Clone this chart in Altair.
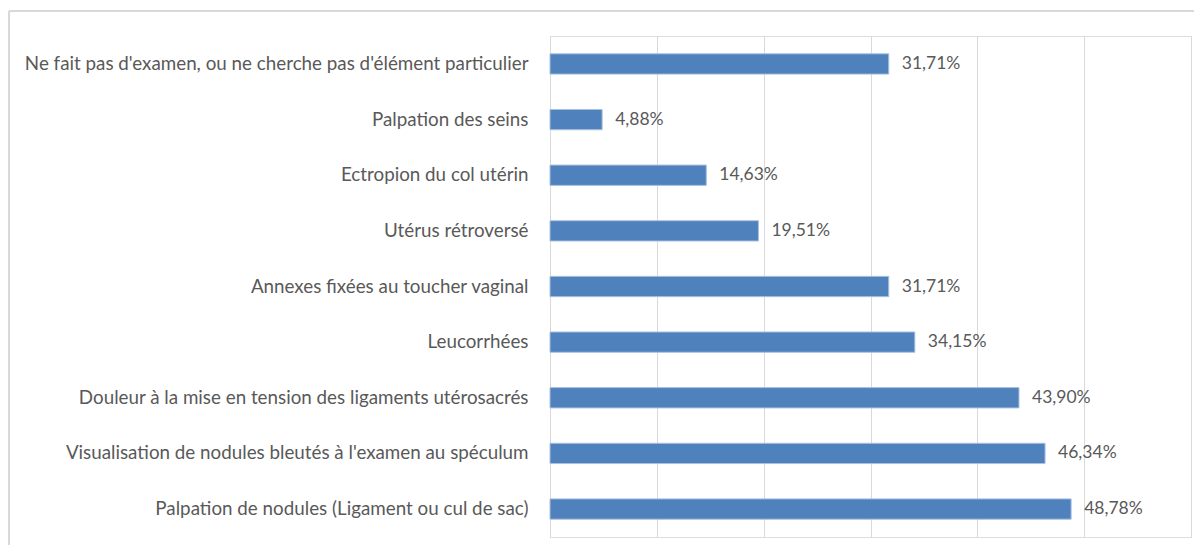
import altair as alt
import pandas as pd

categories = [
    "Ne fait pas d'examen, ou ne cherche pas d'élément particulier",
    "Palpation des seins",
    "Ectropion du col utérin",
    "Utérus rétroversé",
    "Annexes fixées au toucher vaginal",
    "Leucorrhées",
    "Douleur à la mise en tension des ligaments utérosacrés",
    "Visualisation de nodules bleutés à l'examen au spéculum",
    "Palpation de nodules (Ligament ou cul de sac)",
]
values = [31.71, 4.88, 14.63, 19.51, 31.71, 34.15, 43.90, 46.34, 48.78]

df = pd.DataFrame({"cat": categories, "val": values})

y_enc = alt.Y(
    "cat:N",
    sort=categories,
    scale=alt.Scale(paddingInner=0.635, paddingOuter=0.32),
    axis=alt.Axis(
        title=None, domain=False, ticks=False, labelPadding=22,
        labelFont="Lato", labelFontSize=18.8, labelColor="#595959",
        labelLimit=600,
    ),
)
x_enc = alt.X(
    "val:Q",
    scale=alt.Scale(domain=[0, 60], nice=False),
    axis=alt.Axis(
        title=None, domain=False, ticks=False, labels=False,
        values=[0, 10, 20, 30, 40, 50, 60],
        grid=True, gridColor="#d9d9d9", gridWidth=1,
    ),
)

bars = alt.Chart(df).mark_bar(
    color="#4f81bd", stroke="#a9c1e0", strokeWidth=1
).encode(y=y_enc, x=x_enc)

text = alt.Chart(df).transform_calculate(
    lbl="replace(format(datum.val, '.2f'), '.', ',') + '%'"
).mark_text(
    align="left", baseline="middle", dx=13,
    font="Lato", fontSize=17.5, color="#595959",
).encode(y=alt.Y("cat:N", sort=categories), x="val:Q", text="lbl:N")

frame_top = alt.Chart(df).mark_rule(color="#d9d9d9", strokeWidth=1.5).encode(
    x=alt.value(-541), x2=alt.value(700), y=alt.value(-25)
)
frame_left = alt.Chart(df).mark_rule(color="#d9d9d9", strokeWidth=1.5).encode(
    x=alt.value(-541), y=alt.value(-25), y2=alt.value(560)
)

chart = alt.layer(frame_top, frame_left, bars, text).properties(
    width=641, height=501,
    autosize=alt.AutoSizeParams(type="none"),
    padding={"left": 542, "top": 28, "right": 3, "bottom": 8},
).configure_view(stroke=None).configure(background="white")

chart.save("out.html", embed_options={"renderer": "svg", "actions": False})
